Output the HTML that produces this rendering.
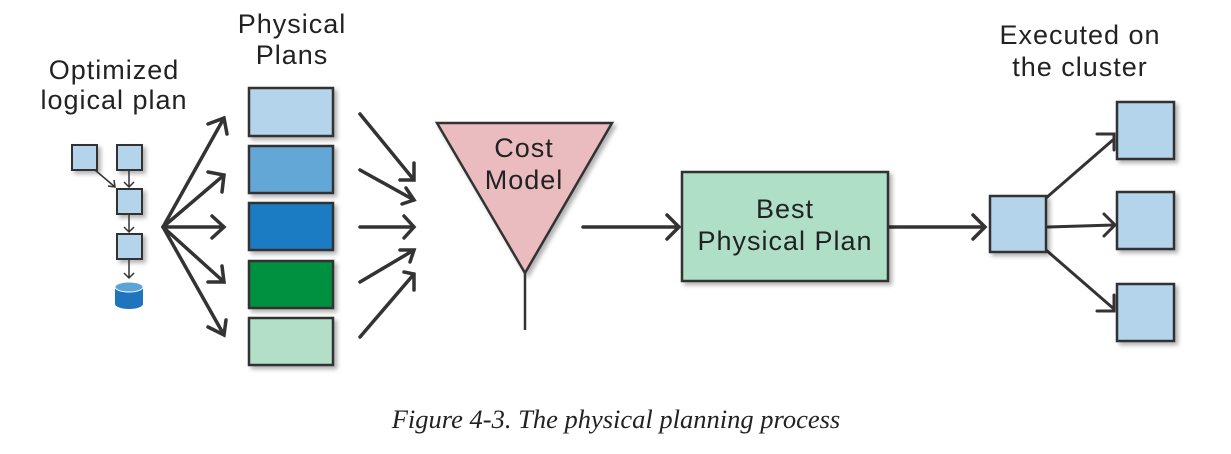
<!DOCTYPE html>
<html><head><meta charset="utf-8"><style>
html,body{margin:0;padding:0;background:#fff;width:1231px;height:454px;overflow:hidden}
svg text{font-family:"Liberation Sans",sans-serif;fill:#222}
</style></head><body>
<svg width="1231" height="454" viewBox="0 0 1231 454" xmlns="http://www.w3.org/2000/svg">
<defs>
<filter id="sh" x="-10%" y="-10%" width="130%" height="130%"><feDropShadow dx="3" dy="3" stdDeviation="2" flood-color="#000" flood-opacity="0.3"/></filter>
</defs>
<g font-size="27" text-anchor="middle" letter-spacing="1">
<text x="114" y="79">Optimized</text>
<text x="114" y="109">logical plan</text>
<text x="292" y="33">Physical</text>
<text x="292" y="64">Plans</text>
<text x="1080" y="44">Executed on</text>
<text x="1080" y="76">the cluster</text>
</g>
<!-- logical plan -->
<g stroke="#333" stroke-width="2" fill="#b3d4ea" filter="url(#sh)">
<rect x="72" y="145" width="25" height="25"/>
<rect x="117" y="145" width="25" height="25"/>
<rect x="117" y="189" width="25" height="25"/>
<rect x="117" y="234" width="25" height="25"/>
</g>
<g stroke="#333" stroke-width="1.5" fill="none">
<path d="M95 170 L115 187 M108 186 L115 187 L114 180"/>
<path d="M129 170 V187 M124 182 L129 187 L134 182"/>
<path d="M129 214 V232 M124 227 L129 232 L134 227"/>
<path d="M129 259 V278 M124 273 L129 278 L134 273"/>
</g>
<path d="M115 287 v17 a14 5 0 0 0 28 0 v-17" fill="#1f74be"/>
<ellipse cx="129" cy="287" rx="14" ry="5" fill="#5aa4d8" stroke="#fff" stroke-width="1"/>
<!-- fan arrows -->
<g stroke="#333" stroke-width="3.5" fill="none" stroke-linecap="round">
<path d="M163 227 L224 118 M208 124 L224 118 L227 134"/>
<path d="M163 227 L224 175 M208 172 L224 175 L222 192"/>
<path d="M163 227 L224 227 M212 216 L224 227 L212 238"/>
<path d="M163 227 L224 282 M208 282 L224 282 L222 266"/>
<path d="M163 227 L224 335 M208 327 L224 335 L226 320"/>
</g>
<!-- physical plans -->
<g stroke="#333" stroke-width="2.5" filter="url(#sh)">
<rect x="249" y="88" width="84" height="48" fill="#b3d4ea"/>
<rect x="249" y="146" width="84" height="47" fill="#64a7d6"/>
<rect x="249" y="203" width="84" height="47" fill="#1a7bc3"/>
<rect x="249" y="261" width="84" height="47" fill="#05913f"/>
<rect x="249" y="318" width="84" height="47" fill="#b3dfc8"/>
</g>
<g stroke="#333" stroke-width="3.5" fill="none" stroke-linecap="round">
<path d="M360 114 L414 180 M414 163 L414 180 L400 180"/>
<path d="M360 170 L414 200 M406 188 L414 200 L402 204"/>
<path d="M360 227 L414 227 M404 216 L414 227 L404 238"/>
<path d="M360 282 L414 250 M400 250 L414 250 L410 262"/>
<path d="M360 337 L414 274 M404 272 L414 274 L414 290"/>
</g>
<!-- funnel -->
<path d="M437 123 L612 123 L525 273 Z" fill="#ebbcbf" stroke="#333" stroke-width="2.5" filter="url(#sh)"/>
<path d="M525 273 V330" stroke="#333" stroke-width="2.5"/>
<g font-size="27" text-anchor="middle" letter-spacing="1">
<text x="524" y="157">Cost</text>
<text x="524" y="189">Model</text>
</g>
<g stroke="#333" stroke-width="3.5" fill="none" stroke-linecap="round">
<path d="M583 227 L678 227 M667 215 L679 227 L667 239"/>
<path d="M889 227 L984 227 M973 215 L985 227 L973 239"/>
</g>
<rect x="682" y="172" width="206" height="109" fill="#b0dfc8" stroke="#333" stroke-width="2.5" filter="url(#sh)"/>
<g font-size="27" text-anchor="middle" letter-spacing="1">
<text x="785" y="218">Best</text>
<text x="785" y="250">Physical Plan</text>
</g>
<!-- cluster -->
<g stroke="#333" stroke-width="3" fill="none" stroke-linecap="round">
<path d="M1046 198 L1114 139 M1097 134 L1114 134 L1114 150"/>
<path d="M1048 227 L1114 225 M1104 214 L1115 225 L1104 236"/>
<path d="M1046 250 L1114 309 M1097 311 L1114 311 L1114 295"/>
</g>
<g stroke="#333" stroke-width="2.5" fill="#b3d4ea" filter="url(#sh)">
<rect x="990" y="196" width="56" height="56"/>
<rect x="1117" y="102" width="57" height="57"/>
<rect x="1117" y="192" width="57" height="57"/>
<rect x="1117" y="284" width="57" height="57"/>
</g>
<text x="616" y="428" font-size="26.5" text-anchor="middle" style="font-family:'Liberation Serif',serif;font-style:italic">Figure 4-3. The physical planning process</text>
</svg>
</body></html>
